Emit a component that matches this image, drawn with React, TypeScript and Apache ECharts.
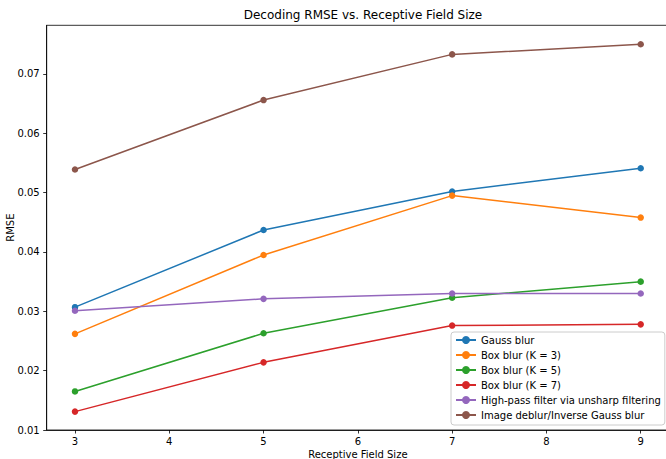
import React, { useEffect, useRef } from "react";
import * as echarts from "echarts";

const xValues = [3, 5, 7, 9];
const gaussBlur = [0.0307, 0.0437, 0.0502, 0.0541];
const boxBlur3 = [0.0262, 0.0395, 0.0495, 0.0458];
const boxBlur5 = [0.0165, 0.0263, 0.0323, 0.035];
const boxBlur7 = [0.0131, 0.0214, 0.0276, 0.0278];
const highPass = [0.0301, 0.0321, 0.033, 0.033];
const deblur = [0.0539, 0.0656, 0.0733, 0.075];
const seriesNames = [
  "Gauss blur",
  "Box blur (K = 3)",
  "Box blur (K = 5)",
  "Box blur (K = 7)",
  "High-pass filter via unsharp filtering",
  "Image deblur/Inverse Gauss blur",
];
const seriesValues = [gaussBlur, boxBlur3, boxBlur5, boxBlur7, highPass, deblur];
const colors = ["#1f77b4", "#ff7f0e", "#2ca02c", "#d62728", "#9467bd", "#8c564b"];
const xTicks = [3, 4, 5, 6, 7, 8, 9];
const yTicks = [0.01, 0.02, 0.03, 0.04, 0.05, 0.06, 0.07];

const FONT = "DejaVu Sans";

export default function App() {
  const ref = useRef<HTMLDivElement>(null);
  useEffect(() => {
    if (!ref.current) return;
    const chart = echarts.init(ref.current, undefined, { renderer: "svg" });
    chart.setOption({
      animation: false,
      backgroundColor: "#fff",
      textStyle: { fontFamily: FONT },
      title: {
        text: "Decoding RMSE vs. Receptive Field Size",
        left: 358,
        textAlign: "center",
        top: 4,
        textStyle: { fontFamily: FONT, fontSize: 12, fontWeight: "normal", color: "#000" },
      },
      grid: {
        left: 46.7,
        top: 25.3,
        right: -3,
        bottom: 29,
        containLabel: false,
        outerBoundsMode: "none",
        show: true,
        borderColor: "#000",
        borderWidth: 0.8,
        backgroundColor: "transparent",
      },
      legend: {
        orient: "vertical",
        left: 451,
        top: 332,
        padding: [3, 4, 5, 4],
        itemWidth: 20,
        itemHeight: 10,
        itemGap: 5,
        backgroundColor: "rgba(255,255,255,0.85)",
        borderColor: "#cccccc",
        borderWidth: 1,
        borderRadius: 3,
        textStyle: { fontFamily: FONT, fontSize: 10, color: "#000", lineHeight: 10 },
        data: seriesNames,
      },
      xAxis: {
        type: "value",
        min: 2.7,
        max: 9.3,
        name: "Receptive Field Size",
        nameLocation: "middle",
        nameGap: 19,
        nameMoveOverlap: false,
        nameTextStyle: { fontFamily: FONT, fontSize: 10, color: "#000" },
        axisLine: { show: true, lineStyle: { color: "#000", width: 0.8 } },
        axisTick: { show: true, length: 3.5, lineStyle: { color: "#000", width: 0.8 }, customValues: xTicks },
        axisLabel: { fontFamily: FONT, fontSize: 10, color: "#000", margin: 6, customValues: xTicks },
        splitLine: { show: false },
      },
      yAxis: {
        type: "value",
        min: 0.01,
        max: 0.0782,
        name: "RMSE",
        nameLocation: "middle",
        nameGap: 31,
        nameMoveOverlap: false,
        nameTextStyle: { fontFamily: FONT, fontSize: 10, color: "#000" },
        axisLine: { show: true, lineStyle: { color: "#000", width: 0.8 } },
        axisTick: { show: true, length: 3.5, lineStyle: { color: "#000", width: 0.8 }, customValues: yTicks },
        axisLabel: {
          fontFamily: FONT,
          fontSize: 10,
          color: "#000",
          margin: 7,
          customValues: yTicks,
          formatter: (v: number) => v.toFixed(2),
        },
        splitLine: { show: false },
      },
      series: seriesNames.map((name, i) => ({
        name,
        type: "line",
        data: xValues.map((x, j) => [x, seriesValues[i][j]]),
        symbol: "circle",
        symbolSize: 6.5,
        color: colors[i],
        lineStyle: { width: 1.5, color: colors[i] },
        itemStyle: { color: colors[i] },
      })),
    });
    return () => chart.dispose();
  }, []);
  return (
    <div
      ref={ref}
      style={{ position: "fixed", left: 0, top: 0, width: 666, height: 459 }}
    />
  );
}
